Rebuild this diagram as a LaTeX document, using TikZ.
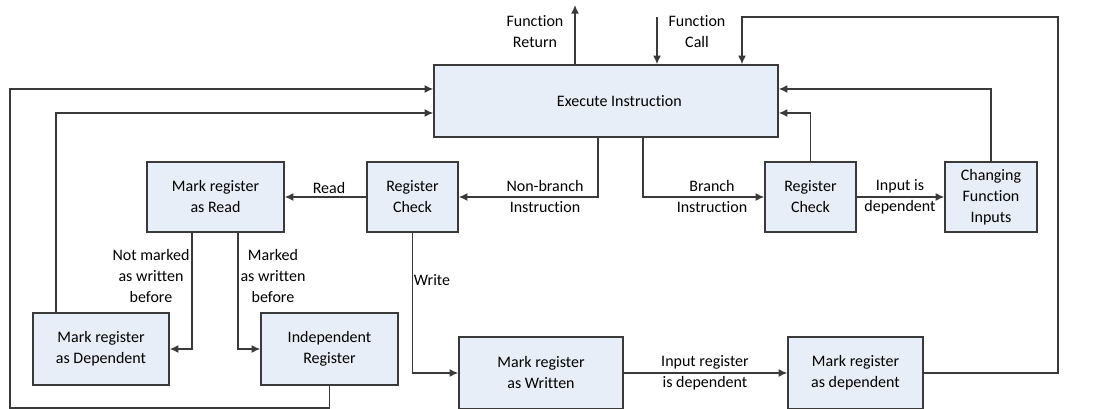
\documentclass[tikz,border=0pt]{standalone}
\usepackage{fontspec}
\setmainfont{Carlito}[Ligatures=NoCommon]
\usepackage{tikz}
\usepackage{xcolor}
\usetikzlibrary{arrows.meta}

\definecolor{boxfill}{HTML}{E8EEF8}
\definecolor{linegray}{HTML}{3A3A3A}

\begin{document}
\begin{tikzpicture}[x=0.75pt, y=-0.75pt,
        box/.style={rectangle, draw=linegray, line width=1.1pt, fill=boxfill, align=center,
            font=\fontsize{12}{15.75}\selectfont, inner sep=0pt},
        arr/.style={draw=linegray, line width=1.1pt, -{Latex[length=6.5pt, width=6pt]}},
        lbl/.style={align=center, inner sep=0pt, font=\fontsize{12}{15.75}\selectfont}]
        \useasboundingbox (0, 0) rectangle (1096, 409);

        \node[box, minimum width=258pt, minimum height=54pt] (exec) at (606, 101) {\hspace*{20pt}Execute Instruction};
        \node[box, minimum width=68.25pt, minimum height=52.5pt] (rca) at (412.5, 197) {Register\\Check};
        \node[box, minimum width=102.75pt, minimum height=52.5pt] (mread) at (215.5, 197) {Mark register\\as Read};
        \node[box, minimum width=68.25pt, minimum height=52.5pt] (rcb) at (810.5, 197) {Register\\Check};
        \node[box, minimum width=69pt, minimum height=52.5pt] (chg) at (991, 197) {Changing\\Function\\Inputs};
        \node[box, minimum width=102pt, minimum height=54pt] (mdep) at (101, 349) {Mark register\\as Dependent};
        \node[box, minimum width=102.75pt, minimum height=54pt] (indep) at (329.5, 349) {Independent\\Register};
        \node[box, minimum width=123pt, minimum height=54pt] (mwr) at (541, 373) {Mark register\\as Written};
        \node[box, minimum width=101.25pt, minimum height=54pt] (mdep2) at (855.5, 373) {Mark register\\as dependent};

        \coordinate (fret) at (575, 5);
        \coordinate (fcall) at (657, 17);
        \coordinate (rloop) at (1058, 17);
        \coordinate (lloop) at (10, 408);

        \node[lbl] (lret) at (535, 32) {Function\\Return};
        \node[lbl] (lcall) at (697, 32) {Function\\Call};
        \node[lbl] (lnb) at (545, 197) {Non-branch\\Instruction};
        \node[lbl] (lbr) at (712, 197) {Branch\\Instruction};
        \node[lbl] (lread) at (329, 188) {Read};
        \node[lbl] (linp) at (900, 197) {Input is\\dependent};
        \node[lbl] (lnot) at (151, 276) {Not marked\\as written\\before};
        \node[lbl] (lmk) at (273, 276) {Marked\\as written\\before};
        \node[lbl] (lwr) at (432, 280) {Write};
        \node[lbl] (lir) at (705, 373) {Input register\\is dependent};

        \draw[arr] ([xshift=-23.25pt]exec.north) -- (fret);
        \draw[arr] (fcall) -- (fcall |- exec.north);
        \draw[arr] ([xshift=-6pt]exec.south) |- (rca.east);
        \draw[arr] ([xshift=27.75pt]exec.south) |- (rcb.west);
        \draw[arr] (rca.west) -- (mread.east);
        \draw[arr] (rcb.east) -- (chg.west);
        \draw[arr] (rcb.north) |- ([yshift=-9pt]exec.east);
        \draw[arr] (chg.north) |- ([yshift=9pt]exec.east);
        \draw[arr] ([xshift=-17.625pt]mread.south) |- (mdep.east);
        \draw[arr] ([xshift=16.875pt]mread.south) |- (indep.west);
        \draw[arr] ([xshift=-33.75pt]mdep.north) |- ([yshift=-9pt]exec.west);
        \draw[arr] (indep.south) |- (lloop) |- ([yshift=9pt]exec.west);
        \draw[arr] (rca.south) |- (mwr.west);
        \draw[arr] (mwr.east) -- (mdep2.west);
        \draw[arr] (mdep2.east) -| (rloop) -| ([xshift=102pt]exec.north);
    \end{tikzpicture}
\end{document}
